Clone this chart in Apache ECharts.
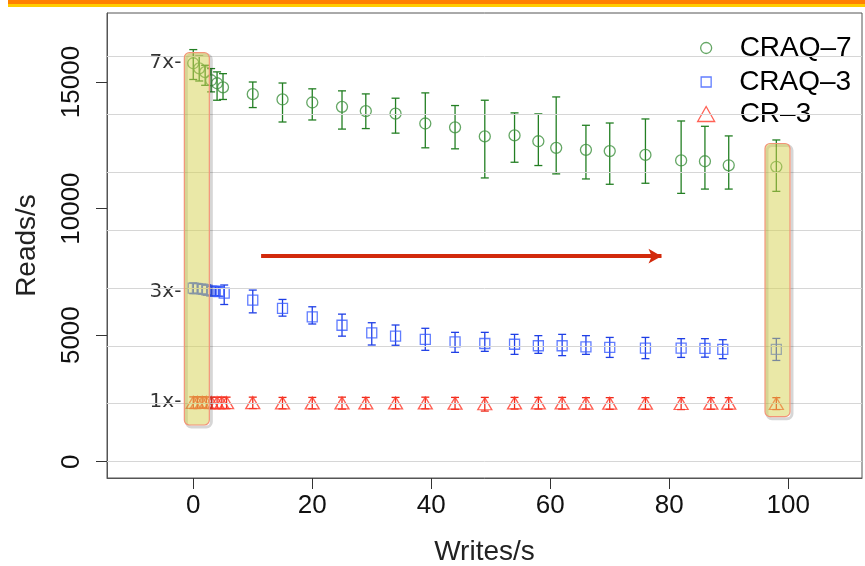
<!DOCTYPE html>
<html>
<head>
<meta charset="utf-8">
<script src="https://cdn.jsdelivr.net/npm/echarts@6/dist/echarts.min.js"></script>
<style>
  html, body { margin: 0; padding: 0; background: #fff; }
  #main { width: 865px; height: 566px; }
</style>
</head>
<body>
<div id="main"></div>
<script>
// CRAQ-7 : writes/s, reads/s, error bar low / high
const craq7X = [0, 1, 2, 3, 4, 5, 10, 15, 20, 25, 29, 34, 39, 44, 49, 54, 58, 61, 66, 70, 76, 82, 86, 90, 98];
const craq7Y = [15740, 15540, 15390, 15070, 14950, 14790, 14520, 14310, 14190, 14020, 13850, 13750, 13360, 13210, 12850, 12890, 12660, 12400, 12320, 12270, 12120, 11900, 11870, 11710, 11650];
const craq7Lo = [15100, 15040, 14870, 14610, 14280, 14310, 13990, 13420, 13500, 13140, 13160, 12980, 12400, 12360, 11210, 11830, 11700, 11370, 11170, 10960, 11000, 10600, 10770, 10770, 10680];
const craq7Hi = [16280, 16020, 15660, 15530, 15400, 15330, 15000, 14960, 14730, 14650, 14530, 14360, 14570, 14070, 14280, 13780, 13740, 14410, 13290, 13380, 13540, 13460, 13250, 12870, 12710];

// CRAQ-3
const craq3X = [0, 0.7, 1.5, 2.3, 3.1, 3.7, 4.3, 5.2, 10, 15, 20, 25, 30, 34, 39, 44, 49, 54, 58, 62, 66, 70, 76, 82, 86, 89, 98];
const craq3Y = [6860, 6840, 6820, 6780, 6740, 6740, 6720, 6660, 6380, 6060, 5720, 5390, 5090, 4960, 4830, 4730, 4670, 4640, 4580, 4580, 4540, 4520, 4490, 4490, 4480, 4440, 4440];
const craq3Lo = [6640, 6650, 6620, 6580, 6560, 6560, 6540, 6210, 5880, 5750, 5440, 4960, 4610, 4600, 4400, 4320, 4360, 4240, 4280, 4190, 4240, 4120, 4070, 4120, 4130, 4070, 4000];
const craq3Hi = [7060, 7040, 7010, 6980, 6920, 6920, 6900, 6980, 6780, 6410, 6120, 5830, 5490, 5400, 5270, 5110, 5110, 5030, 4980, 5030, 4980, 4910, 4910, 4860, 4860, 4820, 4870];

// CR-3
const cr3X = [0, 0.7, 1.5, 2.2, 3.1, 4, 4.8, 5.6, 10, 15, 20, 25, 29, 34, 39, 44, 49, 54, 58, 62, 66, 70, 76, 82, 87, 90, 98];
const cr3Y = [2340, 2340, 2340, 2340, 2330, 2330, 2330, 2330, 2330, 2320, 2320, 2320, 2320, 2320, 2320, 2310, 2290, 2320, 2320, 2320, 2310, 2310, 2310, 2300, 2310, 2310, 2300];
const cr3Lo = [2100, 2100, 2110, 2110, 2100, 2100, 2100, 2100, 2100, 2090, 2090, 2080, 2090, 2090, 2090, 2070, 2000, 2080, 2080, 2080, 2080, 2070, 2070, 2060, 2070, 2070, 2060];
const cr3Hi = [2560, 2560, 2560, 2560, 2550, 2550, 2550, 2550, 2550, 2540, 2540, 2550, 2540, 2540, 2550, 2540, 2540, 2540, 2540, 2540, 2530, 2530, 2530, 2530, 2530, 2530, 2530];

// axis ticks
const xTicks = [0, 20, 40, 60, 80, 100];
const yTicks = [0, 5000, 10000, 15000];

// faint reference lines (multiples of the 1x level)
const refLevels = [0, 2290, 4580, 6870, 9160, 11450, 13740, 16030];

// "7x-" style notes
const ratioText = ["7x-", "3x-", "1x-"];
const ratioY = [15740, 6700, 2380];

// highlight boxes: x from, x to, y from, y to
const boxes = [[-1.5, 2.7, 1450, 16160], [96.1, 100.3, 1780, 12570]];

// red arrow: x from, x to, y
const arrow = [11.4, 78.7, 8120];

const FONT = "Liberation Sans, Arial, sans-serif";
const names = ["CRAQ–7", "CRAQ–3", "CR–3"];
const markColor = ["#3f913f", "#3a5cff", "#ff3a2a"];
const barColor = ["#237f23", "#1f3fe6", "#ee2a1a"];

const chart = echarts.init(document.getElementById("main"));

const pts = (xs, ys) => xs.map((x, i) => [x, ys[i]]);
const errs = (xs, lo, hi) => xs.map((x, i) => [x, lo[i], hi[i]]);

// error bar with caps
function errRender(color) {
  return function (params, api) {
    const x = api.value(0);
    const lo = api.coord([x, api.value(1)]);
    const hi = api.coord([x, api.value(2)]);
    const w = 4;
    const st = { stroke: color, lineWidth: 1.3, fill: null };
    return {
      type: "group",
      children: [
        { type: "line", shape: { x1: lo[0], y1: lo[1], x2: hi[0], y2: hi[1] }, style: st },
        { type: "line", shape: { x1: lo[0] - w, y1: lo[1], x2: lo[0] + w, y2: lo[1] }, style: st },
        { type: "line", shape: { x1: hi[0] - w, y1: hi[1], x2: hi[0] + w, y2: hi[1] }, style: st },
      ],
    };
  };
}

function boxRender(params, api) {
  const p0 = api.coord([api.value(0), api.value(3)]);
  const p1 = api.coord([api.value(1), api.value(2)]);
  const w = p1[0] - p0[0];
  const h = p1[1] - p0[1];
  return {
    type: "group",
    children: [
      {
        type: "rect",
        shape: { x: p0[0] + 2, y: p0[1] + 2, width: w, height: h, r: 5 },
        style: { fill: null, stroke: "rgba(0,0,0,0.16)", lineWidth: 3 },
      },
      {
        type: "rect",
        shape: { x: p0[0], y: p0[1], width: w, height: h, r: 5 },
        style: { fill: "rgba(214,210,80,0.5)", stroke: "#f39478", lineWidth: 1.2 },
      },
    ],
  };
}

function errSeries(i, data) {
  return {
    type: "custom",
    name: names[i] + " err",
    renderItem: errRender(barColor[i]),
    data: data,
    encode: { x: 0, y: [1, 2] },
    silent: true,
    z: 2,
  };
}

function legendFor(i, icon, w, h, top, pad) {
  return {
    data: [{ name: names[i], icon: icon, itemStyle: { color: "rgba(0,0,0,0)", borderColor: markColor[i], borderWidth: 1.3 } }],
    orient: "vertical",
    left: 700.5 - w / 2,
    top: top,
    itemWidth: w,
    itemHeight: h,
    selectedMode: false,
    textStyle: { fontFamily: FONT, fontSize: 28, color: "#000", lineHeight: 30, padding: [0, 0, 0, pad] },
  };
}

const option = {
  animation: false,
  graphic: [
    { type: "rect", shape: { x: 8, y: 0, width: 857, height: 4 }, style: { fill: "#ff8000" } },
    { type: "rect", shape: { x: 8, y: 4, width: 857, height: 3 }, style: { fill: "#ffcc00" } },
  ],
  grid: {
    left: 107,
    top: 13,
    width: 755,
    height: 465,
    show: true,
    borderColor: "#555",
    borderWidth: 1,
    containLabel: false,
    outerBoundsMode: "none",
  },
  legend: [
    legendFor(0, "circle", 11, 11, 28, 23),
    legendFor(1, "rect", 10, 10, 62, 23),
    legendFor(2, "triangle", 17, 15, 94, 20),
  ],
  xAxis: {
    type: "value",
    min: -14.5,
    max: 112.4,
    axisLine: { show: true, onZero: false, lineStyle: { color: "#555" } },
    axisTick: { show: true, length: 11, customValues: xTicks, lineStyle: { color: "#333" } },
    axisLabel: { customValues: xTicks, fontFamily: FONT, fontSize: 26, color: "#111", margin: 15 },
    splitLine: { show: false },
    name: "Writes/s",
    nameLocation: "middle",
    nameGap: 60,
    nameTextStyle: { fontFamily: FONT, fontSize: 28, color: "#222" },
  },
  yAxis: {
    type: "value",
    min: -644,
    max: 17726,
    axisLine: { show: true, onZero: false, lineStyle: { color: "#555" } },
    axisTick: { show: true, length: 11, customValues: yTicks, lineStyle: { color: "#333" } },
    axisLabel: {
      customValues: yTicks,
      rotate: 90,
      fontFamily: FONT,
      fontSize: 26,
      color: "#111",
      margin: 22,
      formatter: (v) => String(v),
    },
    splitLine: { show: false },
    name: "Reads/s",
    nameLocation: "middle",
    nameGap: 66,
    nameTextStyle: { fontFamily: FONT, fontSize: 28, color: "#222" },
  },
  series: [
    {
      // faint horizontal reference lines
      type: "scatter",
      data: [],
      silent: true,
      z: 0,
      markLine: {
        silent: true,
        symbol: "none",
        label: { show: false },
        lineStyle: { color: "#d6d6d6", width: 1, type: "solid" },
        data: refLevels.map((v) => ({ yAxis: v })),
      },
    },
    errSeries(0, errs(craq7X, craq7Lo, craq7Hi)),
    errSeries(1, errs(craq3X, craq3Lo, craq3Hi)),
    errSeries(2, errs(cr3X, cr3Lo, cr3Hi)),
    {
      type: "scatter",
      name: names[0],
      data: pts(craq7X, craq7Y),
      symbol: "circle",
      symbolSize: 11,
      itemStyle: { color: "rgba(0,0,0,0)", borderColor: markColor[0], borderWidth: 1.3 },
      z: 3,
    },
    {
      type: "scatter",
      name: names[1],
      data: pts(craq3X, craq3Y),
      symbol: "rect",
      symbolSize: 10,
      itemStyle: { color: "rgba(0,0,0,0)", borderColor: markColor[1], borderWidth: 1.3 },
      z: 3,
    },
    {
      type: "scatter",
      name: names[2],
      data: pts(cr3X, cr3Y),
      symbol: "triangle",
      symbolSize: [14, 12],
      itemStyle: { color: "rgba(0,0,0,0)", borderColor: markColor[2], borderWidth: 1.3 },
      z: 3,
    },
    {
      // ratio notes on the left
      type: "scatter",
      data: ratioY.map((y, i) => ({ value: [-2.0, y], name: ratioText[i] })),
      symbolSize: 0,
      silent: true,
      z: 4,
      label: {
        show: true,
        position: "left",
        distance: 0,
        formatter: "{b}",
        fontFamily: "DejaVu Sans, sans-serif",
        fontSize: 20,
        color: "#000",
      },
    },
    {
      type: "custom",
      renderItem: boxRender,
      data: boxes,
      encode: { x: [0, 1], y: [2, 3] },
      silent: true,
      z: 10,
      markLine: {
        silent: true,
        symbol: ["none", "arrow"],
        symbolSize: [11, 13],
        label: { show: false },
        lineStyle: { color: "#d22a0c", width: 4, type: "solid", opacity: 1 },
        data: [[{ coord: [arrow[0], arrow[2]] }, { coord: [arrow[1], arrow[2]] }]],
      },
    },
  ],
};

chart.setOption(option);
</script>
</body>
</html>
